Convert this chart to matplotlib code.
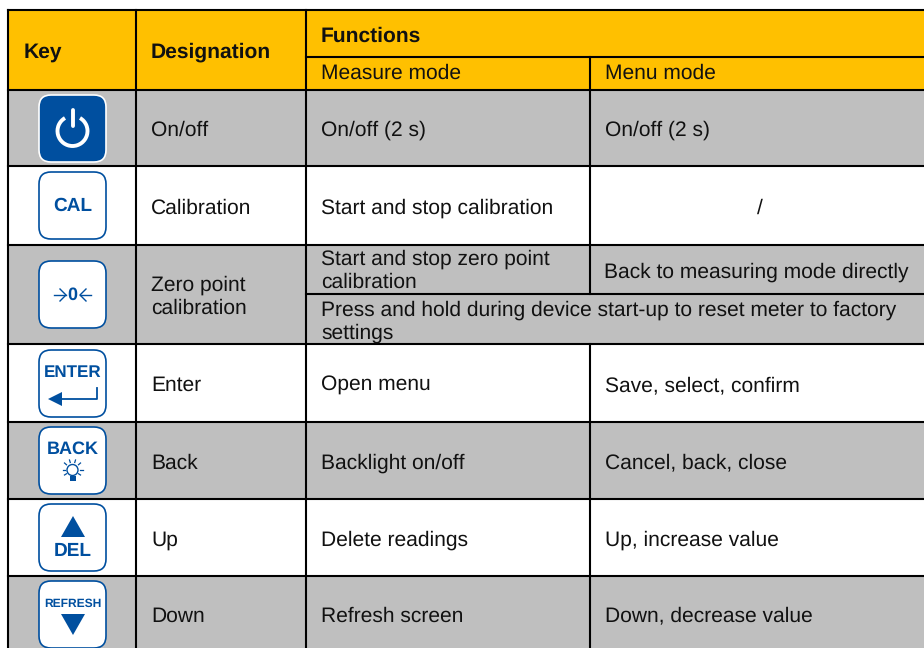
import matplotlib
matplotlib.use("Agg")
import matplotlib.pyplot as plt
from matplotlib import font_manager
from matplotlib.patches import FancyBboxPatch, Rectangle, Polygon, Arc, Circle

plt.rcParams['font.family'] = ['Liberation Sans', 'DejaVu Sans']
plt.rcParams['text.hinting'] = 'no_hinting'
plt.rcParams['text.hinting_factor'] = 1

# table content
header_key = "Key"
header_designation = "Designation"
header_functions = "Functions"
header_measure = "Measure mode"
header_menu = "Menu mode"
designations = ["On/off", "Calibration", "Zero point\ncalibration", "Enter", "Back", "Up", "Down"]
measure_texts = ["On/off (2 s)", "Start and stop calibration", "Start and stop zero point\ncalibration",
                 "Open menu", "Backlight on/off", "Delete readings", "Refresh screen"]
menu_texts = ["On/off (2 s)", "/", "Back to measuring mode directly", "Save, select, confirm",
              "Cancel, back, close", "Up, increase value", "Down, decrease value"]
zero_note = "Press and hold during device start-up to reset meter to factory\nsettings"

YELLOW = "#ffc000"
GREY = "#bfbfbf"
BLUE = "#004f9f"
TEXT = "#111111"
FS = 15.48
LS = 1.27

# layout in pixels
col_x = [8, 136, 306, 590, 924]
row_y = [90, 166, 245, 344, 422, 499, 576, 660]
btn_y = [95, 172, 261, 350, 427, 504, 581]
BTN_X, BTN_S = 39, 67

installed = {f.name for f in font_manager.fontManager.ttflist}
has_narrow = "Liberation Sans Narrow" in installed


def draw_button(ax, y, filled=False):
    face = BLUE if filled else "white"
    edge = "white" if filled else BLUE
    ax.add_patch(FancyBboxPatch((BTN_X + 11, y + 11), BTN_S - 22, BTN_S - 22,
                                boxstyle="round,pad=11,rounding_size=12",
                                fc=face, ec=edge, lw=1.2, zorder=3))


def btn_text(ax, s, y, size, **kw):
    ax.text(BTN_X + BTN_S / 2, y, s, color=BLUE, fontsize=size, fontweight="bold",
            ha="center", va="center", zorder=4, **kw)


def draw_icons(ax):
    # power
    cx, cy = BTN_X + BTN_S / 2, btn_y[0] + 36
    ax.add_patch(Arc((cx, cy), 30, 30, theta1=-60, theta2=240, ec="white", lw=2.8, zorder=4))
    ax.plot([cx, cx], [cy - 21, cy - 5], color="white", lw=2.8, zorder=4, solid_capstyle="round")

    btn_text(ax, "CAL", btn_y[1] + 34, 13.6)

    # zero
    y = btn_y[2] + 34
    btn_text(ax, "0", y, 13)
    ax.plot([BTN_X + 15, BTN_X + 27], [y, y], color=BLUE, lw=1, zorder=4)
    ax.plot([BTN_X + 21, BTN_X + 27, BTN_X + 21], [y - 6, y, y + 6], color=BLUE, lw=1, zorder=4)
    ax.plot([BTN_X + 52, BTN_X + 41], [y, y], color=BLUE, lw=1, zorder=4)
    ax.plot([BTN_X + 47, BTN_X + 41, BTN_X + 47], [y - 6, y, y + 6], color=BLUE, lw=1, zorder=4)

    # enter
    y = btn_y[3]
    if has_narrow:
        ax.text(BTN_X + BTN_S / 2, y + 23, "ENTER", color=BLUE, fontsize=14.5, fontweight="bold",
                family="Liberation Sans Narrow", ha="center", va="center", zorder=4)
    else:
        btn_text(ax, "ENTER", y + 23, 12.3)
    ax.plot([BTN_X + 58, BTN_X + 58, BTN_X + 20], [y + 38, y + 49, y + 49], color=BLUE, lw=1.3, zorder=4)
    ax.add_patch(Polygon([[BTN_X + 9, y + 49], [BTN_X + 23, y + 42], [BTN_X + 23, y + 56]], fc=BLUE, ec="none", zorder=4))

    # back with bulb
    y = btn_y[4]
    btn_text(ax, "BACK", y + 22, 13.2)
    bx, by = BTN_X + 33.5, y + 43
    ax.add_patch(Circle((bx, by), 5.5, fc="white", ec=BLUE, lw=1, zorder=4))
    ax.add_patch(Rectangle((bx - 3, by + 6), 6, 5, fc=BLUE, ec="none", zorder=4))
    for dx, dy in [(-10, 0), (10, 0), (-8, -7), (8, -7), (-3, -10), (3, -10), (-8, 5), (8, 5)]:
        ax.plot([bx + dx * 0.75, bx + dx], [by + dy * 0.75, by + dy], color=BLUE, lw=0.9, zorder=4)

    # up
    y = btn_y[5]
    ax.add_patch(Polygon([[BTN_X + 34, y + 12], [BTN_X + 22, y + 33], [BTN_X + 46, y + 33]], fc=BLUE, ec="none", zorder=4))
    btn_text(ax, "DEL", y + 47, 14)

    # down
    y = btn_y[6]
    if has_narrow:
        ax.text(BTN_X + BTN_S / 2, y + 23, "REFRESH", color=BLUE, fontsize=12.5, fontweight="bold",
                family="Liberation Sans Narrow", ha="center", va="center", zorder=4)
    else:
        btn_text(ax, "REFRESH", y + 23, 8.6)
    ax.add_patch(Polygon([[BTN_X + 22, y + 33], [BTN_X + 46, y + 33], [BTN_X + 34, y + 54]], fc=BLUE, ec="none", zorder=4))


fig = plt.figure(figsize=(9.24, 6.48), dpi=100)
ax = fig.add_axes([0, 0, 1, 1])
ax.set_xlim(0, 924)
ax.set_ylim(648, 0)
ax.axis('off')

# backgrounds
ax.add_patch(Rectangle((8, 10), 916, 80, fc=YELLOW, ec="none", zorder=1))
for i in range(len(designations)):
    if i % 2 == 0:
        ax.add_patch(Rectangle((8, row_y[i]), 916, row_y[i + 1] - row_y[i], fc=GREY, ec="none", zorder=1))

# grid lines
LW = 1.5
ax.plot([8, 924], [10, 10], color="black", lw=LW, zorder=2)
for y in row_y[:-1]:
    ax.plot([8, 924], [y, y], color="black", lw=LW, zorder=2)
ax.plot([306, 924], [57, 57], color="black", lw=LW, zorder=2)
ax.plot([306, 924], [294, 294], color="black", lw=LW, zorder=2)
for x in col_x[:3]:
    ax.plot([x, x], [10, 648], color="black", lw=LW, zorder=2)
ax.plot([590, 590], [57, 294], color="black", lw=LW, zorder=2)
ax.plot([590, 590], [344, 648], color="black", lw=LW, zorder=2)

# header
ax.text(24, 52, header_key, fontsize=FS, fontweight="bold", va="center", color=TEXT)
ax.text(151, 52, header_designation, fontsize=FS, fontweight="bold", va="center", color=TEXT)
ax.text(321, 36, header_functions, fontsize=FS, fontweight="bold", va="center", color=TEXT)
ax.text(321, 73, header_measure, fontsize=FS, va="center", color=TEXT)
ax.text(605, 73, header_menu, fontsize=FS, va="center", color=TEXT)

# rows
for i, (d, m, n) in enumerate(zip(designations, measure_texts, menu_texts)):
    mid = (row_y[i] + row_y[i + 1]) / 2 + 2.5 if i < 6 else 616
    ax.text(151, mid, d, fontsize=FS, va="center", linespacing=LS, color=TEXT)
    if i == 2:
        ax.text(321, 271, m, fontsize=FS, va="center", linespacing=LS, color=TEXT)
        ax.text(604, 272, n, fontsize=FS, va="center", color=TEXT)
        ax.text(321, 322, zero_note, fontsize=FS, va="center", linespacing=1.22, color=TEXT)
    elif n == "/":
        ax.text(321, mid, m, fontsize=FS, va="center", color=TEXT)
        ax.text(760, mid, n, fontsize=FS, va="center", ha="center", color=TEXT)
    else:
        ax.text(321, mid, m, fontsize=FS, va="center", color=TEXT)
        ax.text(605, mid, n, fontsize=FS, va="center", color=TEXT)

# buttons
for i, y in enumerate(btn_y):
    draw_button(ax, y, filled=(i == 0))
draw_icons(ax)

fig.savefig("out.png", dpi=100)
